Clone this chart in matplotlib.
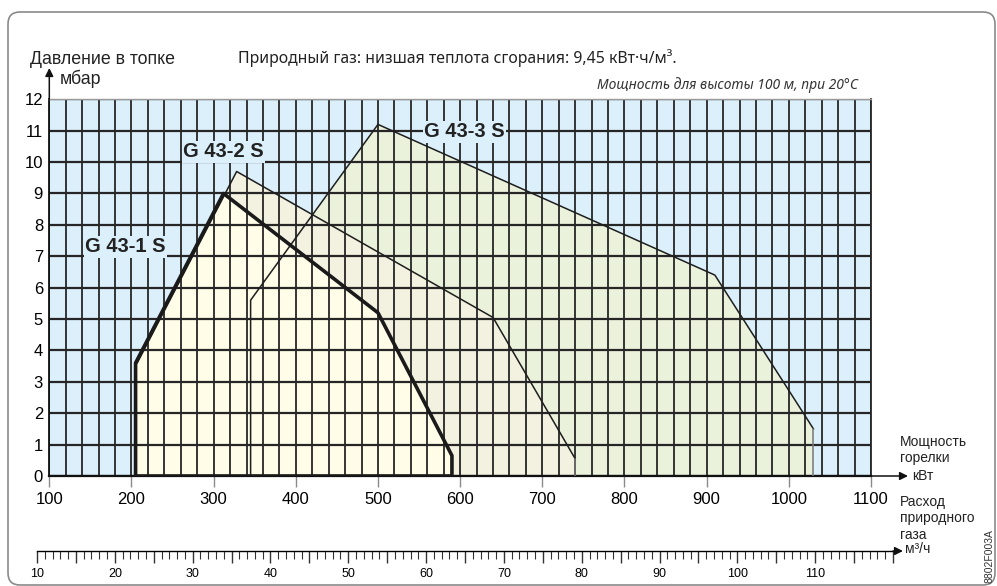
import numpy as np
import matplotlib
matplotlib.use("Agg")
import matplotlib.pyplot as plt
from matplotlib.patches import FancyBboxPatch
from matplotlib.transforms import IdentityTransform
from matplotlib.ticker import MultipleLocator, FuncFormatter

plt.rcParams['font.family'] = ['Liberation Sans', 'DejaVu Sans']

W, H = 997, 586

# axis values
power_ticks = np.arange(100, 1101, 100)      # kW
power_grid = np.arange(100, 1101, 20)
pressure_ticks = np.arange(0, 13)            # mbar

# burner working ranges (kW, mbar)
g431_kw = [205, 205, 312, 500, 590, 590]
g431_mbar = [0, 3.6, 9.0, 5.2, 0.65, 0]
g432_kw = [207, 207, 328, 640, 740, 740]
g432_mbar = [0, 3.6, 9.7, 5.05, 0.55, 0]
g433_kw = [345, 345, 500, 910, 1030, 1030]
g433_mbar = [0, 5.6, 11.2, 6.4, 1.5, 0]

names = ['G 43-1 S', 'G 43-2 S', 'G 43-3 S']
name_kw = [193, 312, 605]
name_mbar = [7.3, 10.33, 10.96]

blue = '#dcf0fb'
fills = ['#fffde8', '#f3f1df', '#ebf2dc']

fig = plt.figure(figsize=(W / 100, H / 100), dpi=100)

def ftext(x, y, s, **kw):
    # position in image pixels (top-left origin)
    fig.text(x / W, 1 - y / H, s, **kw)

# rounded frame
frame = FancyBboxPatch((8, 1), 987, 573, boxstyle="round,pad=0,rounding_size=12",
                       transform=IdentityTransform(), facecolor='none',
                       edgecolor='#8a8a8a', lw=1.2)
fig.add_artist(frame)

ax = fig.add_axes([49.3 / W, 110 / H, 821.7 / W, 376.7 / H])
ax.set_xlim(100, 1100)
ax.set_ylim(0, 12)
ax.set_facecolor(blue)

# fills, largest first
ax.fill(g433_kw, g433_mbar, color=fills[2], lw=0, zorder=1)
ax.fill(g432_kw, g432_mbar, color=fills[1], lw=0, zorder=1.05)
ax.fill(g431_kw, g431_mbar, color=fills[0], lw=0, zorder=1.1)

# grid
ax.set_xticks(power_ticks)
ax.set_xticks(power_grid, minor=True)
ax.set_yticks(pressure_ticks)
ax.set_axisbelow('line')
ax.grid(which='both', axis='x', color='#262626', lw=1.3)
ax.grid(which='major', axis='y', color='#262626', lw=1.6)

# outlines
ax.plot(g433_kw[:-1], g433_mbar[:-1], color='#1e1e1e', lw=1.1, zorder=3)
ax.plot(g433_kw[-2:], g433_mbar[-2:], color='#777777', lw=1.1, zorder=3)
ax.plot(g432_kw[1:-1], g432_mbar[1:-1], color='#1e1e1e', lw=1.1, zorder=3)
ax.plot(g432_kw[-2:], g432_mbar[-2:], color='#777777', lw=1.1, zorder=3)
ax.fill(g431_kw, g431_mbar, facecolor='none', edgecolor='#1a1a1a', lw=2.6,
        joinstyle='round', zorder=3.2)

for s, x, y in zip(names, name_kw, name_mbar):
    ax.text(x, y, s, ha='center', va='center', fontsize=14.5, fontweight='bold',
            color='#222222', zorder=4,
            bbox=dict(facecolor=blue, edgecolor='none', pad=1.0))

ax.tick_params(axis='x', which='major', length=7.7, width=1, color='#8a8a8a',
               pad=3.6, labelsize=12)
ax.tick_params(axis='x', which='minor', length=0)
ax.tick_params(axis='y', length=0, pad=4.5, labelsize=12)
ax.spines['left'].set_color('#111111')
ax.spines['left'].set_linewidth(1.3)
ax.spines['bottom'].set_color('#111111')
ax.spines['bottom'].set_linewidth(1.6)
ax.spines['top'].set_color('#9a9a9a')
ax.spines['top'].set_linewidth(1.0)
ax.spines['right'].set_color('#262626')
ax.spines['right'].set_linewidth(1.3)

arrow = dict(arrowstyle='-|>', color='#111111', lw=1.1, mutation_scale=12,
             shrinkA=0, shrinkB=0)
ax.annotate('', xy=(49.3, H - 68), xytext=(49.3, H - 99.3),
            xycoords='figure pixels', textcoords='figure pixels', arrowprops=arrow)
ax.annotate('', xy=(908, H - 476), xytext=(871, H - 476),
            xycoords='figure pixels', textcoords='figure pixels', arrowprops=arrow)

# gas flow scale
ax2 = fig.add_axes([37 / W, 35 / H, 856 / W, 0.02])
ax2.set_xlim(10, 120)
ax2.set_ylim(0, 1)
ax2.patch.set_visible(False)
for side in ['left', 'right', 'top']:
    ax2.spines[side].set_visible(False)
ax2.spines['bottom'].set_linewidth(1.0)
ax2.set_yticks([])
ax2.xaxis.set_major_locator(MultipleLocator(5))
ax2.xaxis.set_minor_locator(MultipleLocator(1))
ax2.xaxis.set_major_formatter(FuncFormatter(
    lambda v, p: f'{v:.0f}' if (round(v) % 10 == 0 and v <= 110) else ''))
ax2.tick_params(axis='x', which='major', length=8.6, width=1.0, color='#333333',
                pad=3.6, labelsize=9)
ax2.tick_params(axis='x', which='minor', length=5.5, width=0.8, color='#333333')
ax2.annotate('', xy=(903, 35), xytext=(893, 35),
             xycoords='figure pixels', textcoords='figure pixels', arrowprops=arrow)

# texts
ftext(30, 60, 'Давление в топке', va='center', fontsize=12.8, color='#222222')
ftext(60, 79, 'мбар', va='center', fontsize=12.8, color='#222222')
ftext(238, 58, 'Природный газ: низшая теплота сгорания: 9,45 кВт·ч/м³.', va='center',
      fontsize=11.4, family=['Noto Sans', 'DejaVu Sans'], color='#222222')
ftext(858, 85, 'Мощность для высоты 100 м, при 20°C', ha='right', va='center',
      fontsize=10, style='italic', family=['Noto Sans', 'DejaVu Sans'], color='#333333')

ftext(900, 441.7, 'Мощность', va='center', fontsize=10, color='#222222')
ftext(900, 458.3, 'горелки', va='center', fontsize=10, color='#222222')
ftext(912, 476, 'кВт', va='center', fontsize=10, color='#222222')
ftext(900, 501.7, 'Расход', va='center', fontsize=10, color='#222222')
ftext(900, 518.3, 'природного', va='center', fontsize=10, color='#222222')
ftext(900, 535, 'газа', va='center', fontsize=10, color='#222222')
ftext(905, 549, 'м³/ч', va='center', fontsize=10, color='#222222')
ftext(989, 556, '8802F003A', rotation=90, ha='center', va='center', fontsize=7.5,
      color='#333333')

fig.savefig('out.png', dpi=100)
